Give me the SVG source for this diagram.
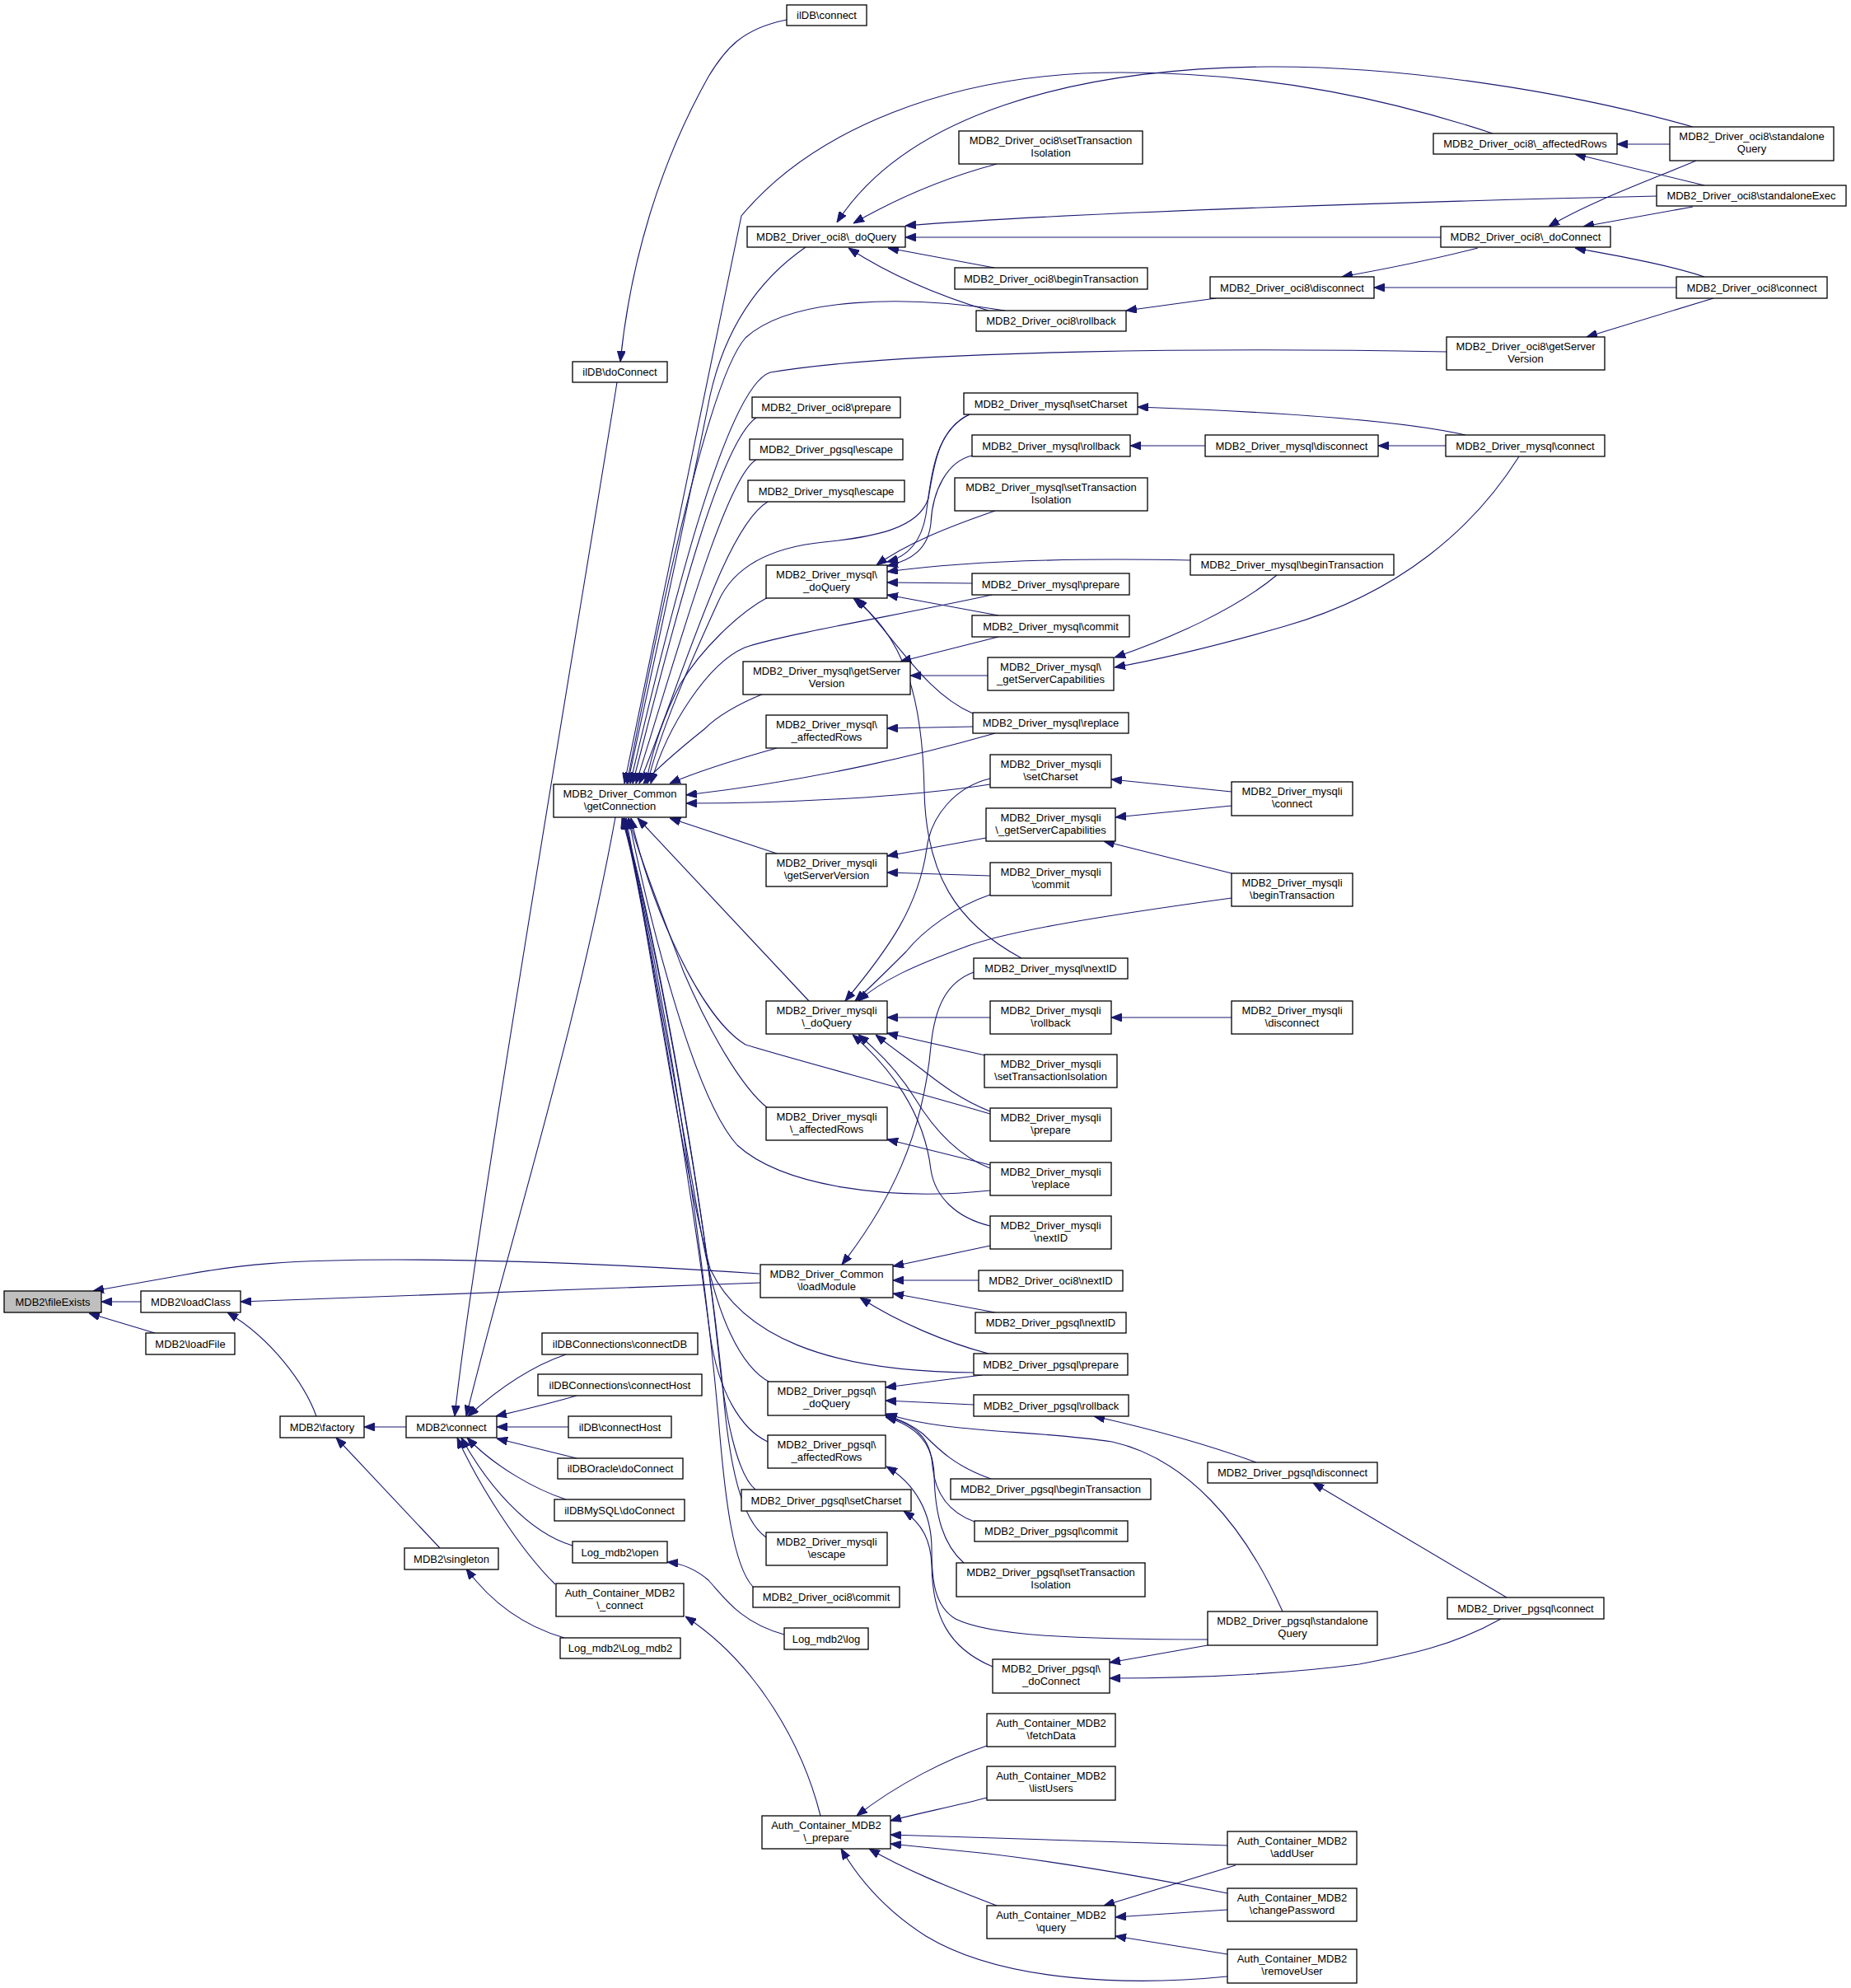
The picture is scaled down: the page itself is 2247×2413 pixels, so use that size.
<svg xmlns="http://www.w3.org/2000/svg" width="2247" height="2413" viewBox="0 0 2247 2413">
<style>
.n rect{fill:#fff;stroke:#000;stroke-width:1.3}
.n rect.hl{fill:#bfbfbf}
.n text{font-family:"Liberation Sans",Arial,Helvetica,sans-serif;font-size:13px;text-anchor:middle;fill:#000}
.e path{fill:none;stroke:#191970;stroke-width:1.1;marker-end:url(#ah)}
</style>
<defs>
<marker id="ah" viewBox="0 0 13 10" refX="13" refY="5" markerWidth="13" markerHeight="10" markerUnits="userSpaceOnUse" orient="auto">
<path d="M0,0 L13,5 L0,10 z" fill="#191970" stroke="#191970" stroke-width="1"/>
</marker>
</defs>
<rect x="0" y="0" width="2247" height="2413" fill="#fff"/>
<g id="connectors" class="e">
<path d="M1812,162 C1700,125 1550,88 1360,88 C1150,88 985,160 900,262 L758,951"/>
<path d="M2055,154 C1900,110 1700,80 1539,81 C1300,83 1100,140 1016,270"/>
<path d="M1210,199 C1150,215 1090,240 1036,271"/>
<path d="M2011,238 C1700,245 1300,258 1099,274"/>
<path d="M1749,288 L1099,288"/>
<path d="M1207,325 L1078,301"/>
<path d="M1200,377 C1150,362 1090,340 1030,301"/>
<path d="M1220,377 C1100,358 960,360 905,410 C860,460 800,750 761,951"/>
<path d="M1476,362 L1367,377"/>
<path d="M1794,301 C1740,315 1690,325 1629,336"/>
<path d="M2035,349 L1668,349"/>
<path d="M2069,336 C2020,320 1960,310 1912,301"/>
<path d="M2059,195 C2000,220 1930,245 1880,275"/>
<path d="M2055,251 L1922,275"/>
<path d="M2027,175 L1963,175"/>
<path d="M2069,225 L1912,187"/>
<path d="M2080,362 L1926,409"/>
<path d="M1756,427 C1500,422 1100,424 935,452 C880,470 810,760 765,951"/>
<path d="M978,300 C920,340 880,400 862,480 C830,640 790,820 762,951"/>
<path d="M918,507 C870,540 810,790 768,951"/>
<path d="M918,558 C880,580 820,800 772,951"/>
<path d="M932,609 C880,640 830,820 776,951"/>
<path d="M955,24 C900,35 880,60 860,93 C800,200 765,320 753,439"/>
<path d="M1177,503 C1138,520 1133,570 1127,605 C1115,642 1060,652 1000,658 C930,665 890,690 872,730 C840,800 800,890 786,951"/>
<path d="M1177,503 C1132,525 1130,585 1124,625 C1118,660 1100,676 1077,682"/>
<path d="M1180,553 C1150,560 1132,595 1130,635 C1127,665 1108,680 1077,687"/>
<path d="M1208,620 C1150,640 1100,660 1064,686"/>
<path d="M1445,680 C1300,677 1180,680 1077,694"/>
<path d="M1180,708 L1077,707"/>
<path d="M1212,747 L1077,722"/>
<path d="M1181,866 C1125,842 1090,780 1040,726"/>
<path d="M1240,1163 C1160,1120 1124,1060 1122,960 C1120,850 1100,775 1036,726"/>
<path d="M932,725 C895,745 850,790 826,830 C805,870 792,910 784,951"/>
<path d="M1204,722 C1100,745 950,770 904,786 C860,805 810,880 790,951"/>
<path d="M927,842 C895,855 870,870 855,885 C830,905 800,930 781,951"/>
<path d="M943,908 C900,920 850,935 813,951"/>
<path d="M1208,890 C1120,915 1000,945 833,965"/>
<path d="M1199,820 L1105,820"/>
<path d="M1212,773 L1093,803"/>
<path d="M1550,698 C1500,740 1420,775 1353,798"/>
<path d="M1844,554 C1790,640 1700,720 1560,760 C1480,783 1420,798 1353,810"/>
<path d="M1779,528 C1700,510 1550,500 1381,494"/>
<path d="M1755,541 L1673,541"/>
<path d="M1463,541 L1372,541"/>
<path d="M1181,882 L1077,884"/>
<path d="M1182,1180 C1150,1192 1135,1220 1130,1270 C1120,1380 1080,1460 1022,1535"/>
<path d="M1495,961 L1349,946"/>
<path d="M1495,978 L1354,992"/>
<path d="M1495,1060 L1340,1021"/>
<path d="M1495,1090 C1350,1110 1220,1130 1170,1150 C1110,1172 1070,1190 1042,1215"/>
<path d="M1202,952 C1100,968 950,975 833,975"/>
<path d="M1202,945 C1160,955 1130,990 1125,1030 C1115,1100 1080,1150 1026,1215"/>
<path d="M1197,1017 L1077,1039"/>
<path d="M1202,1063 L1077,1059"/>
<path d="M1202,1086 C1160,1100 1120,1130 1100,1155 C1080,1175 1060,1195 1038,1215"/>
<path d="M943,1036 L813,993"/>
<path d="M982,1215 L774,993"/>
<path d="M1202,1235 L1077,1235"/>
<path d="M1495,1235 L1349,1235"/>
<path d="M1196,1281 L1077,1254"/>
<path d="M1202,1349 C1160,1332 1135,1310 1115,1295 C1095,1280 1078,1268 1063,1256"/>
<path d="M1202,1352 C1100,1322 960,1285 905,1268 C850,1235 790,1100 766,993"/>
<path d="M1202,1418 C1160,1402 1130,1365 1110,1332 C1090,1300 1065,1275 1042,1256"/>
<path d="M1202,1414 L1077,1383"/>
<path d="M1202,1445 C1080,1458 950,1440 895,1390 C840,1330 785,1100 763,993"/>
<path d="M1202,1488 C1160,1478 1135,1452 1130,1420 C1122,1350 1080,1295 1035,1256"/>
<path d="M1202,1512 L1084,1537"/>
<path d="M932,1345 C900,1320 860,1250 830,1180 C800,1100 780,1050 763,993"/>
<path d="M1188,1554 L1084,1554"/>
<path d="M1208,1593 L1084,1570"/>
<path d="M1200,1643 C1150,1630 1090,1605 1044,1575"/>
<path d="M922,1546 C760,1535 600,1529 480,1529 C350,1529 290,1535 220,1548 C180,1555 145,1561 113,1567"/>
<path d="M923,1557 L292,1580"/>
<path d="M171,1580 L123,1580"/>
<path d="M188,1618 L108,1594"/>
<path d="M384,1719 C370,1680 330,1625 276,1593"/>
<path d="M493,1732 L442,1732"/>
<path d="M534,1879 L408,1745"/>
<path d="M749,464 C720,650 575,1500 552,1719"/>
<path d="M747,992 C700,1250 620,1500 566,1719"/>
<path d="M687,1644 C640,1660 600,1690 568,1719"/>
<path d="M700,1694 C670,1703 640,1710 602,1719"/>
<path d="M690,1732 L603,1732"/>
<path d="M700,1770 L603,1746"/>
<path d="M687,1820 C650,1808 600,1780 567,1745"/>
<path d="M695,1876 C640,1860 590,1800 560,1745"/>
<path d="M674,1923 C630,1880 580,1800 555,1745"/>
<path d="M685,1988 C640,1975 600,1950 566,1904"/>
<path d="M952,1984 C900,1970 880,1940 860,1918 C845,1905 830,1898 810,1896"/>
<path d="M996,2204 C975,2120 920,2020 832,1962"/>
<path d="M1182,1666 C1000,1665 900,1620 862,1540 C825,1400 790,1150 760,993"/>
<path d="M1192,1669 L1075,1684"/>
<path d="M1182,1705 L1075,1700"/>
<path d="M1525,1775 C1470,1755 1400,1735 1328,1719"/>
<path d="M1829,1939 L1594,1800"/>
<path d="M1822,1965 C1760,2000 1700,2010 1650,2020 C1550,2033 1450,2037 1347,2037"/>
<path d="M1466,1997 L1347,2018"/>
<path d="M1557,1956 C1510,1850 1440,1770 1350,1750 C1250,1735 1150,1740 1076,1716"/>
<path d="M1466,1990 C1300,1990 1200,1985 1160,1965 C1135,1950 1131,1920 1131,1880 C1131,1835 1110,1800 1076,1780"/>
<path d="M1203,1795 C1160,1780 1140,1760 1120,1740 C1105,1728 1090,1722 1075,1717"/>
<path d="M1183,1847 C1150,1835 1135,1810 1132,1780 C1130,1745 1110,1728 1075,1719"/>
<path d="M1170,1897 C1145,1875 1135,1840 1134,1790 C1133,1750 1110,1730 1075,1720"/>
<path d="M1205,2023 C1150,2000 1132,1960 1131,1900 C1130,1870 1120,1850 1097,1834"/>
<path d="M935,1678 C900,1660 870,1600 852,1500 C822,1330 782,1100 758,993"/>
<path d="M932,1750 C900,1735 872,1690 862,1620 C840,1450 792,1150 757,993"/>
<path d="M917,1808 C895,1790 880,1720 872,1640 C852,1450 800,1150 757,993"/>
<path d="M930,1866 C900,1845 885,1780 877,1680 C857,1480 800,1150 756,993"/>
<path d="M914,1926 C890,1900 880,1820 872,1720 C852,1500 800,1150 755,993"/>
<path d="M1198,2119 C1150,2135 1090,2165 1040,2204"/>
<path d="M1198,2182 C1160,2192 1110,2202 1081,2210"/>
<path d="M1490,2240 C1300,2235 1150,2230 1081,2227"/>
<path d="M1490,2298 C1400,2280 1300,2262 1200,2250 C1150,2245 1110,2241 1081,2238"/>
<path d="M1210,2313 C1150,2290 1100,2270 1055,2244"/>
<path d="M1490,2399 C1380,2410 1220,2408 1124,2350 C1080,2322 1045,2285 1021,2244"/>
<path d="M1500,2264 L1340,2313"/>
<path d="M1490,2318 L1354,2327"/>
<path d="M1490,2372 L1354,2350"/>
</g>
<g id="n_fileExists" class="n"><rect class="hl" x="5" y="1567" width="118" height="26"/><text x="64" y="1584.5">MDB2\fileExists</text></g>
<g id="n_loadClass" class="n"><rect x="171" y="1567" width="121" height="26"/><text x="231.5" y="1584.5">MDB2\loadClass</text></g>
<g id="n_loadFile" class="n"><rect x="177" y="1618" width="108" height="26"/><text x="231" y="1635.5">MDB2\loadFile</text></g>
<g id="n_factory" class="n"><rect x="340" y="1719" width="102" height="26"/><text x="391" y="1736.5">MDB2\factory</text></g>
<g id="n_singleton" class="n"><rect x="491" y="1879" width="114" height="26"/><text x="548" y="1896.5">MDB2\singleton</text></g>
<g id="n_mdb2connect" class="n"><rect x="493" y="1719" width="110" height="26"/><text x="548" y="1736.5">MDB2\connect</text></g>
<g id="n_iidbDoConnect" class="n"><rect x="695" y="439" width="115" height="25"/><text x="752.5" y="456">ilDB\doConnect</text></g>
<g id="n_getConnection" class="n"><rect x="672" y="952" width="161" height="40"/><text x="752.5" y="967.5">MDB2_Driver_Common</text><text x="752.5" y="982.5">\getConnection</text></g>
<g id="n_connectDB" class="n"><rect x="658" y="1618" width="189" height="26"/><text x="752.5" y="1635.5">ilDBConnections\connectDB</text></g>
<g id="n_connectHost" class="n"><rect x="653" y="1668" width="199" height="26"/><text x="752.5" y="1685.5">ilDBConnections\connectHost</text></g>
<g id="n_iidbConnectHost" class="n"><rect x="690" y="1719" width="125" height="26"/><text x="752.5" y="1736.5">ilDB\connectHost</text></g>
<g id="n_oracleDoConnect" class="n"><rect x="677" y="1770" width="152" height="25"/><text x="753" y="1787">ilDBOracle\doConnect</text></g>
<g id="n_mysqlDoConnectIIDB" class="n"><rect x="673" y="1820" width="158" height="26"/><text x="752" y="1837.5">ilDBMySQL\doConnect</text></g>
<g id="n_logOpen" class="n"><rect x="695" y="1871" width="115" height="26"/><text x="752.5" y="1888.5">Log_mdb2\open</text></g>
<g id="n_authConnect" class="n"><rect x="675" y="1922" width="155" height="40"/><text x="752.5" y="1937.5">Auth_Container_MDB2</text><text x="752.5" y="1952.5">\_connect</text></g>
<g id="n_logMdb2" class="n"><rect x="680" y="1988" width="146" height="25"/><text x="753" y="2005">Log_mdb2\Log_mdb2</text></g>
<g id="n_iidbConnect" class="n"><rect x="955" y="6" width="97" height="25"/><text x="1003.5" y="23">ilDB\connect</text></g>
<g id="n_oci8DoQuery" class="n"><rect x="907" y="275" width="192" height="25"/><text x="1003" y="292">MDB2_Driver_oci8\_doQuery</text></g>
<g id="n_oci8Prepare" class="n"><rect x="913" y="482" width="180" height="25"/><text x="1003" y="499">MDB2_Driver_oci8\prepare</text></g>
<g id="n_pgsqlEscape" class="n"><rect x="910" y="533" width="186" height="25"/><text x="1003" y="550">MDB2_Driver_pgsql\escape</text></g>
<g id="n_mysqlEscape" class="n"><rect x="908" y="583" width="190" height="26"/><text x="1003" y="600.5">MDB2_Driver_mysql\escape</text></g>
<g id="n_mysqlDoQuery" class="n"><rect x="930" y="686" width="147" height="40"/><text x="1003.5" y="701.5">MDB2_Driver_mysql\</text><text x="1003.5" y="716.5">_doQuery</text></g>
<g id="n_mysqlGetServerVersion" class="n"><rect x="902" y="803" width="203" height="40"/><text x="1003.5" y="818.5">MDB2_Driver_mysql\getServer</text><text x="1003.5" y="833.5">Version</text></g>
<g id="n_mysqlAffectedRows" class="n"><rect x="930" y="868" width="147" height="40"/><text x="1003.5" y="883.5">MDB2_Driver_mysql\</text><text x="1003.5" y="898.5">_affectedRows</text></g>
<g id="n_mysqliGetServerVersion" class="n"><rect x="930" y="1036" width="147" height="40"/><text x="1003.5" y="1051.5">MDB2_Driver_mysqli</text><text x="1003.5" y="1066.5">\getServerVersion</text></g>
<g id="n_mysqliDoQuery" class="n"><rect x="930" y="1215" width="147" height="40"/><text x="1003.5" y="1230.5">MDB2_Driver_mysqli</text><text x="1003.5" y="1245.5">\_doQuery</text></g>
<g id="n_mysqliAffectedRows" class="n"><rect x="930" y="1344" width="147" height="40"/><text x="1003.5" y="1359.5">MDB2_Driver_mysqli</text><text x="1003.5" y="1374.5">\_affectedRows</text></g>
<g id="n_loadModule" class="n"><rect x="923" y="1535" width="161" height="40"/><text x="1003.5" y="1550.5">MDB2_Driver_Common</text><text x="1003.5" y="1565.5">\loadModule</text></g>
<g id="n_pgsqlDoQuery" class="n"><rect x="932" y="1677" width="143" height="41"/><text x="1003.5" y="1693">MDB2_Driver_pgsql\</text><text x="1003.5" y="1708">_doQuery</text></g>
<g id="n_pgsqlAffectedRows" class="n"><rect x="932" y="1742" width="143" height="40"/><text x="1003.5" y="1757.5">MDB2_Driver_pgsql\</text><text x="1003.5" y="1772.5">_affectedRows</text></g>
<g id="n_pgsqlSetCharset" class="n"><rect x="900" y="1808" width="206" height="26"/><text x="1003" y="1825.5">MDB2_Driver_pgsql\setCharset</text></g>
<g id="n_mysqliEscape" class="n"><rect x="930" y="1860" width="147" height="40"/><text x="1003.5" y="1875.5">MDB2_Driver_mysqli</text><text x="1003.5" y="1890.5">\escape</text></g>
<g id="n_oci8Commit" class="n"><rect x="914" y="1926" width="178" height="25"/><text x="1003" y="1943">MDB2_Driver_oci8\commit</text></g>
<g id="n_logLog" class="n"><rect x="952" y="1976" width="102" height="26"/><text x="1003" y="1993.5">Log_mdb2\log</text></g>
<g id="n_authPrepare" class="n"><rect x="925" y="2204" width="156" height="40"/><text x="1003" y="2219.5">Auth_Container_MDB2</text><text x="1003" y="2234.5">\_prepare</text></g>
<g id="n_oci8SetTransIso" class="n"><rect x="1164" y="159" width="223" height="40"/><text x="1275.5" y="174.5">MDB2_Driver_oci8\setTransaction</text><text x="1275.5" y="189.5">Isolation</text></g>
<g id="n_oci8BeginTrans" class="n"><rect x="1159" y="325" width="234" height="26"/><text x="1276" y="342.5">MDB2_Driver_oci8\beginTransaction</text></g>
<g id="n_oci8Rollback" class="n"><rect x="1185" y="377" width="182" height="25"/><text x="1276" y="394">MDB2_Driver_oci8\rollback</text></g>
<g id="n_mysqlSetCharset" class="n"><rect x="1170" y="477" width="211" height="26"/><text x="1275.5" y="494.5">MDB2_Driver_mysql\setCharset</text></g>
<g id="n_mysqlRollback" class="n"><rect x="1180" y="528" width="192" height="26"/><text x="1276" y="545.5">MDB2_Driver_mysql\rollback</text></g>
<g id="n_mysqlSetTransIso" class="n"><rect x="1159" y="580" width="234" height="40"/><text x="1276" y="595.5">MDB2_Driver_mysql\setTransaction</text><text x="1276" y="610.5">Isolation</text></g>
<g id="n_mysqlPrepare" class="n"><rect x="1180" y="696" width="191" height="26"/><text x="1275.5" y="713.5">MDB2_Driver_mysql\prepare</text></g>
<g id="n_mysqlCommit" class="n"><rect x="1180" y="747" width="191" height="26"/><text x="1275.5" y="764.5">MDB2_Driver_mysql\commit</text></g>
<g id="n_mysqlGetServerCap" class="n"><rect x="1199" y="798" width="153" height="40"/><text x="1275.5" y="813.5">MDB2_Driver_mysql\</text><text x="1275.5" y="828.5">_getServerCapabilities</text></g>
<g id="n_mysqlReplace" class="n"><rect x="1181" y="865" width="189" height="25"/><text x="1275.5" y="882">MDB2_Driver_mysql\replace</text></g>
<g id="n_mysqliSetCharset" class="n"><rect x="1202" y="916" width="147" height="40"/><text x="1275.5" y="931.5">MDB2_Driver_mysqli</text><text x="1275.5" y="946.5">\setCharset</text></g>
<g id="n_mysqliGetServerCap" class="n"><rect x="1197" y="981" width="157" height="40"/><text x="1275.5" y="996.5">MDB2_Driver_mysqli</text><text x="1275.5" y="1011.5">\_getServerCapabilities</text></g>
<g id="n_mysqliCommit" class="n"><rect x="1202" y="1047" width="147" height="40"/><text x="1275.5" y="1062.5">MDB2_Driver_mysqli</text><text x="1275.5" y="1077.5">\commit</text></g>
<g id="n_mysqlNextID" class="n"><rect x="1182" y="1163" width="187" height="25"/><text x="1275.5" y="1180">MDB2_Driver_mysql\nextID</text></g>
<g id="n_mysqliRollback" class="n"><rect x="1202" y="1215" width="147" height="40"/><text x="1275.5" y="1230.5">MDB2_Driver_mysqli</text><text x="1275.5" y="1245.5">\rollback</text></g>
<g id="n_mysqliSetTransIso" class="n"><rect x="1195" y="1280" width="161" height="40"/><text x="1275.5" y="1295.5">MDB2_Driver_mysqli</text><text x="1275.5" y="1310.5">\setTransactionIsolation</text></g>
<g id="n_mysqliPrepare" class="n"><rect x="1202" y="1345" width="147" height="40"/><text x="1275.5" y="1360.5">MDB2_Driver_mysqli</text><text x="1275.5" y="1375.5">\prepare</text></g>
<g id="n_mysqliReplace" class="n"><rect x="1202" y="1411" width="147" height="40"/><text x="1275.5" y="1426.5">MDB2_Driver_mysqli</text><text x="1275.5" y="1441.5">\replace</text></g>
<g id="n_mysqliNextID" class="n"><rect x="1202" y="1476" width="147" height="40"/><text x="1275.5" y="1491.5">MDB2_Driver_mysqli</text><text x="1275.5" y="1506.5">\nextID</text></g>
<g id="n_oci8NextID" class="n"><rect x="1188" y="1542" width="175" height="25"/><text x="1275.5" y="1559">MDB2_Driver_oci8\nextID</text></g>
<g id="n_pgsqlNextID" class="n"><rect x="1184" y="1593" width="183" height="25"/><text x="1275.5" y="1610">MDB2_Driver_pgsql\nextID</text></g>
<g id="n_pgsqlPrepare" class="n"><rect x="1182" y="1643" width="187" height="26"/><text x="1275.5" y="1660.5">MDB2_Driver_pgsql\prepare</text></g>
<g id="n_pgsqlRollback" class="n"><rect x="1182" y="1693" width="188" height="26"/><text x="1276" y="1710.5">MDB2_Driver_pgsql\rollback</text></g>
<g id="n_pgsqlBeginTrans" class="n"><rect x="1154" y="1795" width="243" height="25"/><text x="1275.5" y="1812">MDB2_Driver_pgsql\beginTransaction</text></g>
<g id="n_pgsqlCommit" class="n"><rect x="1183" y="1846" width="186" height="25"/><text x="1276" y="1863">MDB2_Driver_pgsql\commit</text></g>
<g id="n_pgsqlSetTransIso" class="n"><rect x="1161" y="1897" width="229" height="41"/><text x="1275.5" y="1913">MDB2_Driver_pgsql\setTransaction</text><text x="1275.5" y="1928">Isolation</text></g>
<g id="n_pgsqlDoConnect" class="n"><rect x="1205" y="2014" width="142" height="41"/><text x="1276" y="2030">MDB2_Driver_pgsql\</text><text x="1276" y="2045">_doConnect</text></g>
<g id="n_authFetchData" class="n"><rect x="1198" y="2080" width="156" height="40"/><text x="1276" y="2095.5">Auth_Container_MDB2</text><text x="1276" y="2110.5">\fetchData</text></g>
<g id="n_authListUsers" class="n"><rect x="1198" y="2144" width="156" height="41"/><text x="1276" y="2160">Auth_Container_MDB2</text><text x="1276" y="2175">\listUsers</text></g>
<g id="n_authQuery" class="n"><rect x="1198" y="2313" width="156" height="40"/><text x="1276" y="2328.5">Auth_Container_MDB2</text><text x="1276" y="2343.5">\query</text></g>
<g id="n_oci8Disconnect" class="n"><rect x="1469" y="336" width="199" height="26"/><text x="1568.5" y="353.5">MDB2_Driver_oci8\disconnect</text></g>
<g id="n_mysqlDisconnect" class="n"><rect x="1463" y="528" width="210" height="26"/><text x="1568" y="545.5">MDB2_Driver_mysql\disconnect</text></g>
<g id="n_mysqlBeginTrans" class="n"><rect x="1445" y="673" width="247" height="25"/><text x="1568.5" y="690">MDB2_Driver_mysql\beginTransaction</text></g>
<g id="n_mysqliConnect" class="n"><rect x="1495" y="949" width="147" height="41"/><text x="1568.5" y="965">MDB2_Driver_mysqli</text><text x="1568.5" y="980">\connect</text></g>
<g id="n_mysqliBeginTrans" class="n"><rect x="1495" y="1060" width="147" height="40"/><text x="1568.5" y="1075.5">MDB2_Driver_mysqli</text><text x="1568.5" y="1090.5">\beginTransaction</text></g>
<g id="n_mysqliDisconnect" class="n"><rect x="1495" y="1215" width="147" height="40"/><text x="1568.5" y="1230.5">MDB2_Driver_mysqli</text><text x="1568.5" y="1245.5">\disconnect</text></g>
<g id="n_pgsqlDisconnect" class="n"><rect x="1466" y="1775" width="206" height="25"/><text x="1569" y="1792">MDB2_Driver_pgsql\disconnect</text></g>
<g id="n_pgsqlStandaloneQuery" class="n"><rect x="1466" y="1956" width="206" height="41"/><text x="1569" y="1972">MDB2_Driver_pgsql\standalone</text><text x="1569" y="1987">Query</text></g>
<g id="n_authAddUser" class="n"><rect x="1490" y="2223" width="157" height="40"/><text x="1568.5" y="2238.5">Auth_Container_MDB2</text><text x="1568.5" y="2253.5">\addUser</text></g>
<g id="n_authChangePassword" class="n"><rect x="1490" y="2292" width="157" height="40"/><text x="1568.5" y="2307.5">Auth_Container_MDB2</text><text x="1568.5" y="2322.5">\changePassword</text></g>
<g id="n_authRemoveUser" class="n"><rect x="1490" y="2366" width="157" height="41"/><text x="1568.5" y="2382">Auth_Container_MDB2</text><text x="1568.5" y="2397">\removeUser</text></g>
<g id="n_oci8AffectedRows" class="n"><rect x="1740" y="162" width="223" height="25"/><text x="1851.5" y="179">MDB2_Driver_oci8\_affectedRows</text></g>
<g id="n_oci8DoConnect" class="n"><rect x="1749" y="275" width="206" height="25"/><text x="1852" y="292">MDB2_Driver_oci8\_doConnect</text></g>
<g id="n_oci8GetServerVersion" class="n"><rect x="1756" y="409" width="192" height="40"/><text x="1852" y="424.5">MDB2_Driver_oci8\getServer</text><text x="1852" y="439.5">Version</text></g>
<g id="n_mysqlConnect" class="n"><rect x="1755" y="528" width="193" height="26"/><text x="1851.5" y="545.5">MDB2_Driver_mysql\connect</text></g>
<g id="n_pgsqlConnect" class="n"><rect x="1757" y="1939" width="190" height="26"/><text x="1852" y="1956.5">MDB2_Driver_pgsql\connect</text></g>
<g id="n_oci8StandaloneQuery" class="n"><rect x="2027" y="154" width="199" height="41"/><text x="2126.5" y="170">MDB2_Driver_oci8\standalone</text><text x="2126.5" y="185">Query</text></g>
<g id="n_oci8StandaloneExec" class="n"><rect x="2011" y="225" width="230" height="25"/><text x="2126" y="242">MDB2_Driver_oci8\standaloneExec</text></g>
<g id="n_oci8Connect" class="n"><rect x="2035" y="336" width="183" height="26"/><text x="2126.5" y="353.5">MDB2_Driver_oci8\connect</text></g>
</svg>
